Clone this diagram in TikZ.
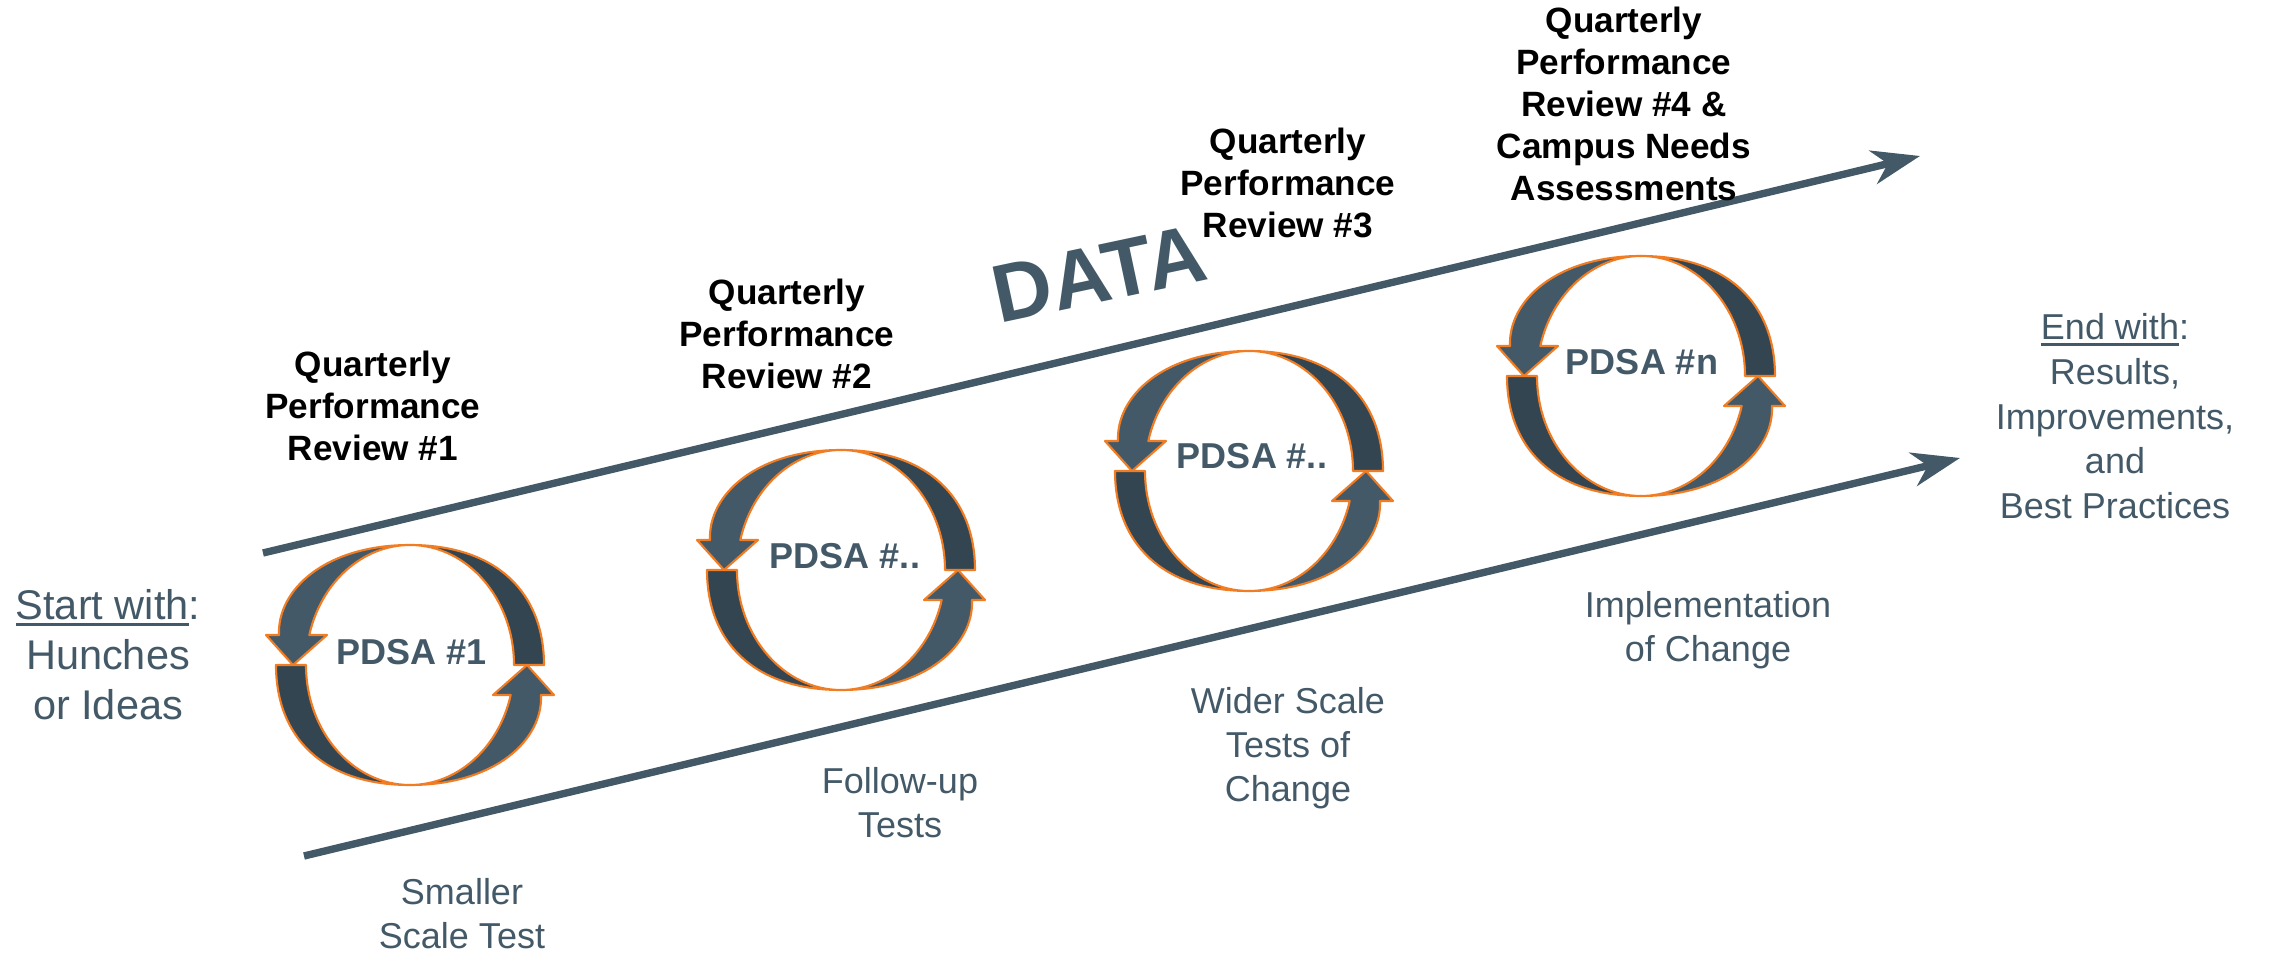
\documentclass[tikz,border=0pt]{standalone}
\usepackage{fontspec}
\setmainfont{Liberation Sans}
\usetikzlibrary{arrows.meta}
\definecolor{slate}{RGB}{67,89,104}
\definecolor{deep}{RGB}{52,69,82}
\definecolor{rim}{RGB}{240,125,35}
\newcommand{\ulword}[1]{\setbox0\hbox{#1}\rlap{\rule[-1.9pt]{\wd0}{1.1pt}}\box0}

\begin{document}
\begin{tikzpicture}[x=0.01cm,y=0.01cm,line join=round,
  trend/.style={draw=slate,line width=2.1pt,-{Stealth[length=0.48cm,width=0.34cm,inset=0.15cm]}},
  lightpart/.style={fill=slate,draw=rim,line width=0.6pt},
  darkpart/.style={fill=deep,draw=rim,line width=0.6pt},
  review/.style={font=\bfseries\fontsize{10}{11.95}\selectfont,text=black,align=center,anchor=north,inner sep=0pt},
  note/.style={font=\fontsize{10.24}{12.5}\selectfont,text=slate,align=center,anchor=north,inner sep=0pt},
  cyclelabel/.style={font=\bfseries\fontsize{10.24}{12}\selectfont,text=slate,anchor=base,inner sep=0pt}]
\useasboundingbox (0,0) rectangle (2269,-955);

% the two trend arrows
\coordinate (dataS) at (263,-553);
\coordinate (dataE) at (1920,-156);
\coordinate (chgS) at (304,-856);
\coordinate (chgE) at (1960,-458);
\draw[trend] (dataS) -- (dataE);
\draw[trend] (chgS) -- (chgE);

% PDSA cycles
\begin{scope}[shift={(410,-665)}]
\filldraw[darkpart](0,120) .. controls (87,120) and (134,72) .. (134,0)--(104,0) arc[start angle=0,end angle=90,x radius=104,y radius=120]--cycle;
\filldraw[darkpart](0,-120) .. controls (-87,-120) and (-134,-72) .. (-134,0)--(-104,0) arc[start angle=180,end angle=270,x radius=104,y radius=120]--cycle;
\filldraw[lightpart](0,120) .. controls (-85,120) and (-133,75) .. (-131,30)--(-144,30)--(-117,0)--(-83,30)--(-100.7,30) arc[start angle=165.52,end angle=90,x radius=104,y radius=120]--cycle;
\filldraw[lightpart](0,-120) .. controls (85,-120) and (133,-75) .. (131,-30)--(144,-30)--(117,0)--(83,-30)--(100.7,-30) arc[start angle=-14.48,end angle=-90,x radius=104,y radius=120]--cycle;
\node[cyclelabel] (pdsa1) at (2,1) {PDSA \#1};
\end{scope}

\begin{scope}[shift={(841,-570)}]
\filldraw[darkpart](0,120) .. controls (87,120) and (134,72) .. (134,0)--(104,0) arc[start angle=0,end angle=90,x radius=104,y radius=120]--cycle;
\filldraw[darkpart](0,-120) .. controls (-87,-120) and (-134,-72) .. (-134,0)--(-104,0) arc[start angle=180,end angle=270,x radius=104,y radius=120]--cycle;
\filldraw[lightpart](0,120) .. controls (-85,120) and (-133,75) .. (-131,30)--(-144,30)--(-117,0)--(-83,30)--(-100.7,30) arc[start angle=165.52,end angle=90,x radius=104,y radius=120]--cycle;
\filldraw[lightpart](0,-120) .. controls (85,-120) and (133,-75) .. (131,-30)--(144,-30)--(117,0)--(83,-30)--(100.7,-30) arc[start angle=-14.48,end angle=-90,x radius=104,y radius=120]--cycle;
\node[cyclelabel] (pdsa2) at (4,2) {PDSA \#..};
\end{scope}

\begin{scope}[shift={(1249,-471)}]
\filldraw[darkpart](0,120) .. controls (87,120) and (134,72) .. (134,0)--(104,0) arc[start angle=0,end angle=90,x radius=104,y radius=120]--cycle;
\filldraw[darkpart](0,-120) .. controls (-87,-120) and (-134,-72) .. (-134,0)--(-104,0) arc[start angle=180,end angle=270,x radius=104,y radius=120]--cycle;
\filldraw[lightpart](0,120) .. controls (-85,120) and (-133,75) .. (-131,30)--(-144,30)--(-117,0)--(-83,30)--(-100.7,30) arc[start angle=165.52,end angle=90,x radius=104,y radius=120]--cycle;
\filldraw[lightpart](0,-120) .. controls (85,-120) and (133,-75) .. (131,-30)--(144,-30)--(117,0)--(83,-30)--(100.7,-30) arc[start angle=-14.48,end angle=-90,x radius=104,y radius=120]--cycle;
\node[cyclelabel] (pdsa3) at (3,2) {PDSA \#..};
\end{scope}

\begin{scope}[shift={(1641,-376)}]
\filldraw[darkpart](0,120) .. controls (87,120) and (134,72) .. (134,0)--(104,0) arc[start angle=0,end angle=90,x radius=104,y radius=120]--cycle;
\filldraw[darkpart](0,-120) .. controls (-87,-120) and (-134,-72) .. (-134,0)--(-104,0) arc[start angle=180,end angle=270,x radius=104,y radius=120]--cycle;
\filldraw[lightpart](0,120) .. controls (-85,120) and (-133,75) .. (-131,30)--(-144,30)--(-117,0)--(-83,30)--(-100.7,30) arc[start angle=165.52,end angle=90,x radius=104,y radius=120]--cycle;
\filldraw[lightpart](0,-120) .. controls (85,-120) and (133,-75) .. (131,-30)--(144,-30)--(117,0)--(83,-30)--(100.7,-30) arc[start angle=-14.48,end angle=-90,x radius=104,y radius=120]--cycle;
\node[cyclelabel] (pdsan) at (1,1) {PDSA \#n};
\end{scope}

% labels
\node[rotate=12,font=\bfseries\fontsize{23.3}{28}\selectfont,text=slate,inner sep=0pt] (data) at (1099,-274) {DATA};
\node[review] (qpr1) at (373,-350) {Quarterly\\Performance\\Review \#1};
\node[review] (qpr2) at (787,-278) {Quarterly\\Performance\\Review \#2};
\node[review] (qpr3) at (1288,-127) {Quarterly\\Performance\\Review \#3};
\node[review] (qpr4) at (1624,-6) {Quarterly\\Performance\\Review \#4 \&\\Campus Needs\\Assessments};
\node[note,font=\fontsize{11.8}{14.2}\selectfont] (start) at (108,-589) {\ulword{Start with}:\\Hunches\\or Ideas};
\node[note] (smaller) at (462,-878) {Smaller\\Scale Test};
\node[note] (followup) at (900,-767) {Follow-up\\Tests};
\node[note] (wider) at (1288,-687) {Wider Scale\\Tests of\\Change};
\node[note] (implement) at (1708,-591) {Implementation\\of Change};
\node[note,font=\fontsize{10.24}{12.7}\selectfont] (finish) at (2115,-313) {\ulword{End with}:\\Results,\\Improvements,\\and\\Best Practices};
\end{tikzpicture}
\end{document}
